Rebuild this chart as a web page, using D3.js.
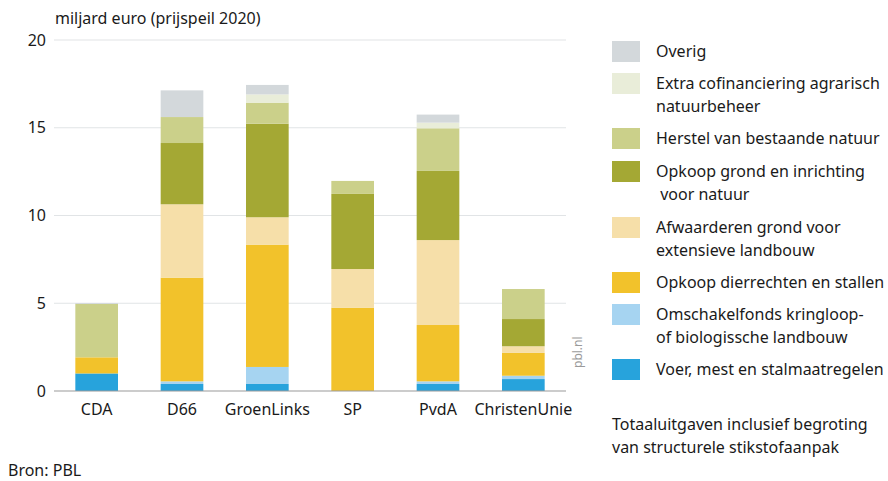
<!DOCTYPE html>
<html>
<head>
<meta charset="utf-8">
<script src="https://cdn.jsdelivr.net/npm/d3@7"></script>
<style>
  body { margin: 0; background: #fff; }
  text { font-family: "Noto Sans", "Open Sans", sans-serif; fill: #1a1a1a; }
</style>
</head>
<body>
<div id="chart"></div>
<script>
var parties = ["CDA", "D66", "GroenLinks", "SP", "PvdA", "ChristenUnie"];

// series, bottom to top
var keys = ["voer", "omschakel", "dier", "afwaarderen", "grond", "herstel", "extra", "overig"];
var labels = [
  ["Voer, mest en stalmaatregelen"],
  ["Omschakelfonds kringloop-", "of biologissche landbouw"],
  ["Opkoop dierrechten en stallen"],
  ["Afwaarderen grond voor", "extensieve landbouw"],
  ["Opkoop grond en inrichting", " voor natuur"],
  ["Herstel van bestaande natuur"],
  ["Extra cofinanciering agrarisch", "natuurbeheer"],
  ["Overig"]
];
var colors = ["#27a3dc", "#a6d4f1", "#f2c22b", "#f6dfa9", "#a4a834", "#cbd08a", "#e9edd9", "#d3d8db"];

var voer        = [1.0, 0.4, 0.4, 0, 0.4, 0.68];
var omschakel   = [0, 0.15, 0.97, 0, 0.15, 0.19];
var dier        = [0.92, 5.91, 6.97, 4.75, 3.21, 1.3];
var afwaarderen = [0, 4.18, 1.56, 2.2, 4.84, 0.38];
var grond       = [0, 3.49, 5.33, 4.28, 3.94, 1.55];
var herstel     = [3.04, 1.48, 1.2, 0.74, 2.43, 1.71];
var extra       = [0, 0, 0.47, 0, 0.32, 0];
var overig      = [0.05, 1.52, 0.54, 0, 0.46, 0];

var yTicks = [0, 5, 10, 15, 20];

var series = { voer, omschakel, dier, afwaarderen, grond, herstel, extra, overig };
var rows = parties.map(function (p, i) {
  var r = { party: p };
  keys.forEach(function (k) { r[k] = series[k][i]; });
  return r;
});

var w = 888, h = 481;
var fs = "16px";
var svg = d3.select("#chart").append("svg").attr("width", w).attr("height", h);

var x = d3.scaleBand().domain(parties).range([54, 566]).paddingInner(0.5).paddingOuter(0.25);
var y = d3.scaleLinear().domain([0, 20]).range([391, 40]);

// grid
svg.append("g").selectAll("line").data(yTicks.slice(1)).enter().append("line")
  .attr("x1", 54).attr("x2", 566)
  .attr("y1", function (d) { return y(d); }).attr("y2", function (d) { return y(d); })
  .attr("stroke", "#e1e4e6").attr("stroke-width", 1.2);

// y tick labels
svg.append("g").selectAll("text").data(yTicks).enter().append("text")
  .attr("x", 46).attr("y", function (d) { return y(d); })
  .attr("dy", "0.35em").attr("text-anchor", "end")
  .style("font-size", fs)
  .text(function (d) { return d; });

var stack = d3.stack().keys(keys)(rows);

svg.append("g").selectAll("g").data(stack).enter().append("g")
  .attr("fill", function (d, i) { return colors[i]; })
  .selectAll("rect").data(function (d) { return d; }).enter().append("rect")
  .attr("x", function (d) { return x(d.data.party); })
  .attr("width", x.bandwidth())
  .attr("y", function (d) { return y(d[1]); })
  .attr("height", function (d) { return y(d[0]) - y(d[1]); });

// baseline
svg.append("line").attr("x1", 54).attr("x2", 566).attr("y1", y(0)).attr("y2", y(0))
  .attr("stroke", "#9a9a9a").attr("stroke-width", 1.2);

// x labels
svg.append("g").selectAll("text").data(parties).enter().append("text")
  .attr("x", function (d) { return x(d) + x.bandwidth() / 2; })
  .attr("y", 415).attr("text-anchor", "middle")
  .style("font-size", fs)
  .text(function (d) { return d; });

// axis title
svg.append("text").attr("x", 55).attr("y", 24).style("font-size", fs)
  .text("miljard euro (prijspeil 2020)");

// pbl.nl
svg.append("text").attr("transform", "translate(582,368) rotate(-90)")
  .style("font-size", "12px").style("fill", "#9a9a9a")
  .text("pbl.nl");

// legend, top to bottom
var legTops = [41, 73, 128, 161, 217, 272, 304, 359];
var legend = svg.append("g").selectAll("g").data(keys.slice().reverse()).enter().append("g")
  .attr("transform", function (d, i) { return "translate(612," + legTops[i] + ")"; });
legend.append("rect").attr("width", 28).attr("height", 21)
  .attr("fill", function (d) { return colors[keys.indexOf(d)]; });
legend.each(function (d) {
  var lines = labels[keys.indexOf(d)];
  var g = d3.select(this);
  lines.forEach(function (t, j) {
    g.append("text").attr("x", 44).attr("y", 10.5 + j * 23).attr("dy", "0.35em")
      .style("font-size", fs).style("white-space", "pre")
      .text(t);
  });
});

svg.append("text").attr("x", 612).attr("y", 430).style("font-size", fs)
  .text("Totaaluitgaven inclusief begroting");
svg.append("text").attr("x", 612).attr("y", 453).style("font-size", fs)
  .text("van structurele stikstofaanpak");

svg.append("text").attr("x", 8).attr("y", 476).style("font-size", fs)
  .text("Bron: PBL");
</script>
</body>
</html>
